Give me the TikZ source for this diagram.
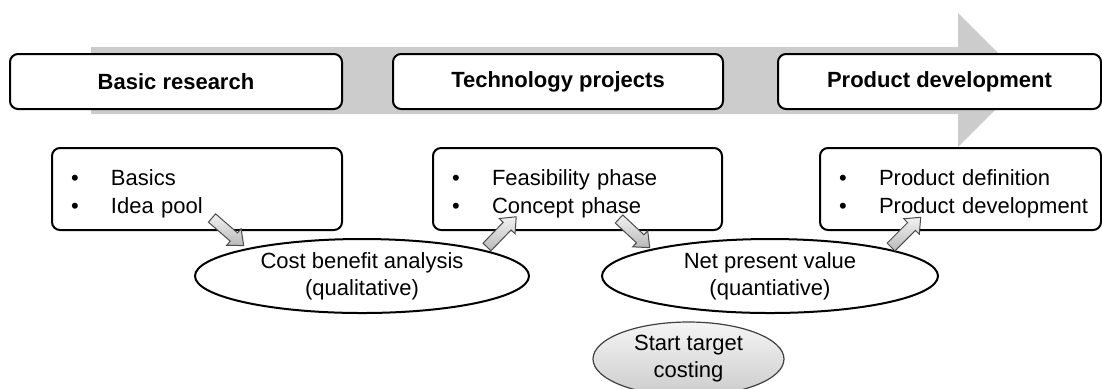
\documentclass[tikz,border=0pt]{standalone}
\usepackage{fontspec}
\setmainfont{Liberation Sans}
\usetikzlibrary{shapes,arrows,positioning}
\tikzstyle{phase}=[rectangle,draw,line width=1pt,rounded corners=4pt,fill=white,align=center,minimum height=27.5pt,font=\fontsize{11}{13}\selectfont\bfseries]
\tikzstyle{task}=[rectangle,draw,line width=1pt,rounded corners=4pt,fill=white,align=left,inner xsep=9.5pt,minimum height=41pt,text height=13pt,font=\fontsize{11}{14}\selectfont]
\tikzstyle{crit}=[ellipse,draw,line width=1pt,fill=white,align=center,inner sep=0pt,minimum height=37pt,font=\fontsize{11}{13.5}\selectfont]
\tikzstyle{startcost}=[ellipse,draw=black!75,line width=0.6pt,top color=gray!8,bottom color=gray!40,align=center,inner sep=0pt,minimum width=95.5pt,minimum height=37pt,font=\fontsize{11}{13.5}\selectfont]
\tikzstyle{blockarr}=[draw=black!70,line width=0.5pt,top color=gray!10,bottom color=gray!55]
\newcommand{\itm}[1]{\makebox[20pt][l]{\textbullet}\mbox{#1}}
% block arrow of 21pt, tail at the current origin
\newcommand{\blockarrow}{(0pt,-2.75pt) -- (14.5pt,-2.75pt) -- (14.5pt,-5.5pt) -- (21pt,0pt)
  -- (14.5pt,5.5pt) -- (14.5pt,2.75pt) -- (0pt,2.75pt) -- cycle}

\begin{document}
\begin{tikzpicture}[x=0.5pt,y=-0.5pt]
\useasboundingbox (0,0) rectangle (1102,388);
% process arrow in the background
\fill[black!20] (91,47) -- (958,47) -- (958,13) -- (1025,80) -- (958,147) -- (958,114) -- (91,114) -- cycle;

% phases
\node[phase,minimum width=166pt] (basic) at (176,81.5) {Basic research};
\node[phase,minimum width=165pt] (tech) at (558,81.5) {Technology projects};
\node[phase,minimum width=161.5pt] (prod) at (939.5,81.5) {Product development};

% contents
\node[task,text width=126pt] (basics) at (197,189) {\itm{Basics}\\\itm{Idea pool}};
\node[task,text width=125.5pt] (feas) at (577.5,189) {\itm{Feasibility phase}\\\itm{Concept phase}};
\node[task,text width=121.5pt] (proddef) at (960.5,189) {\itm{Product definition}\\\itm{Product development}};

% evaluation
\node[crit,minimum width=167pt] (cba) at (362,276) {Cost benefit analysis\\(qualitative)};
\node[crit,minimum width=168pt] (npv) at (770,276) {Net present value\\(quantiative)};
\node[startcost] (stc) at (688.5,359) {Start target\\costing};

% small arrows
\coordinate (a1) at (212,218);
\coordinate (a2) at (487,247);
\coordinate (a3) at (619,219);
\coordinate (a4) at (891,247);
\path[blockarr,shift={(a1)},rotate=-41] \blockarrow;
\path[blockarr,shift={(a2)},rotate=46] \blockarrow;
\path[blockarr,shift={(a3)},rotate=-43] \blockarrow;
\path[blockarr,shift={(a4)},rotate=45] \blockarrow;
\end{tikzpicture}
\end{document}
